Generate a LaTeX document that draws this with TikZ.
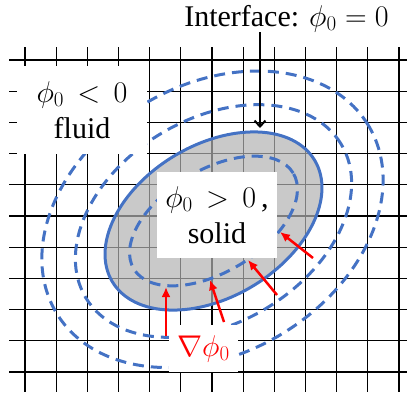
\RequirePackage{fix-cm}
\documentclass[tikz,border=0pt]{standalone}
\usepackage{fontspec}
\setmainfont{Liberation Serif}
\usetikzlibrary{arrows.meta,positioning}

\definecolor{lsblue}{RGB}{68,114,196}

\begin{document}
\begin{tikzpicture}[
        x=1pt, y=-1pt,
        gridline/.style={black, line width=1.1pt},
        lsline/.style={lsblue, line width=3pt},
        lsdash/.style={lsline, dash pattern=on 11pt off 7pt},
        textbox/.style={fill=white, inner sep=0pt, align=center, font=\fontsize{30}{36}\selectfont},
        arrow/.style={-{Straight Barb[length=6pt,width=11pt]}, line width=2pt},
        gradarrow/.style={-{Latex[length=10pt,width=9pt]}, red, line width=2.5pt}
    ]
    \useasboundingbox (0,0) rectangle (407,392);

    % grid
    \foreach \i in {0,...,12}
        \draw[gridline] (25+31.17*\i,47) -- (25+31.17*\i,392);
    \foreach \j in {0,...,10}
        \draw[gridline] (9,60+31.2*\j) -- (407,60+31.2*\j);

    % level sets
    \coordinate (center) at (213.5,221);
    \fill[black!30, fill opacity=0.7, rotate around={31:(center)}] (center) ellipse [x radius=118pt, y radius=76pt];
    \draw[lsdash, rotate around={31:(center)}] (center) ellipse [x radius=93pt, y radius=51pt];
    \draw[lsdash, rotate around={31:(center)}] (center) ellipse [x radius=149pt, y radius=102pt];
    \draw[lsdash, rotate around={31:(center)}] ([yshift=2pt]center) ellipse [x radius=182pt, y radius=134pt];
    \draw[lsline, rotate around={31:(center)}] (center) ellipse [x radius=118pt, y radius=76pt];

    \node[textbox, minimum width=130pt, minimum height=88pt] (fluid) at (82,110) {$\phi_0 \,<\, 0$\\fluid};
    \node[textbox, minimum width=120pt, minimum height=86pt] (solid) at (217,215) {$\phi_0 \,>\, 0$\,,\\solid};
    \node[textbox, text=red, minimum width=69pt, minimum height=47pt] (grad) at (203.5,348.5) {$\nabla\phi_0$};
    \node[textbox, fill=none, anchor=base] (iface) at (286.5,26) {Interface: $\phi_0 = 0$};

    % interface arrow
    \coordinate (ifacetip) at (260,128);
    \draw[arrow] (iface.south -| ifacetip) -- (ifacetip);

    % gradient arrows
    \coordinate (tail1) at (166,336);
    \coordinate (tip1) at (166,287);
    \coordinate (tail2) at (224,322);
    \coordinate (tip2) at (210,280);
    \coordinate (tail3) at (277,295);
    \coordinate (tip3) at (248,260);
    \coordinate (tail4) at (313,258);
    \coordinate (tip4) at (280,232);
    \foreach \k in {1,...,4}
        \draw[gradarrow] (tail\k) -- (tip\k);

\end{tikzpicture}
\end{document}
